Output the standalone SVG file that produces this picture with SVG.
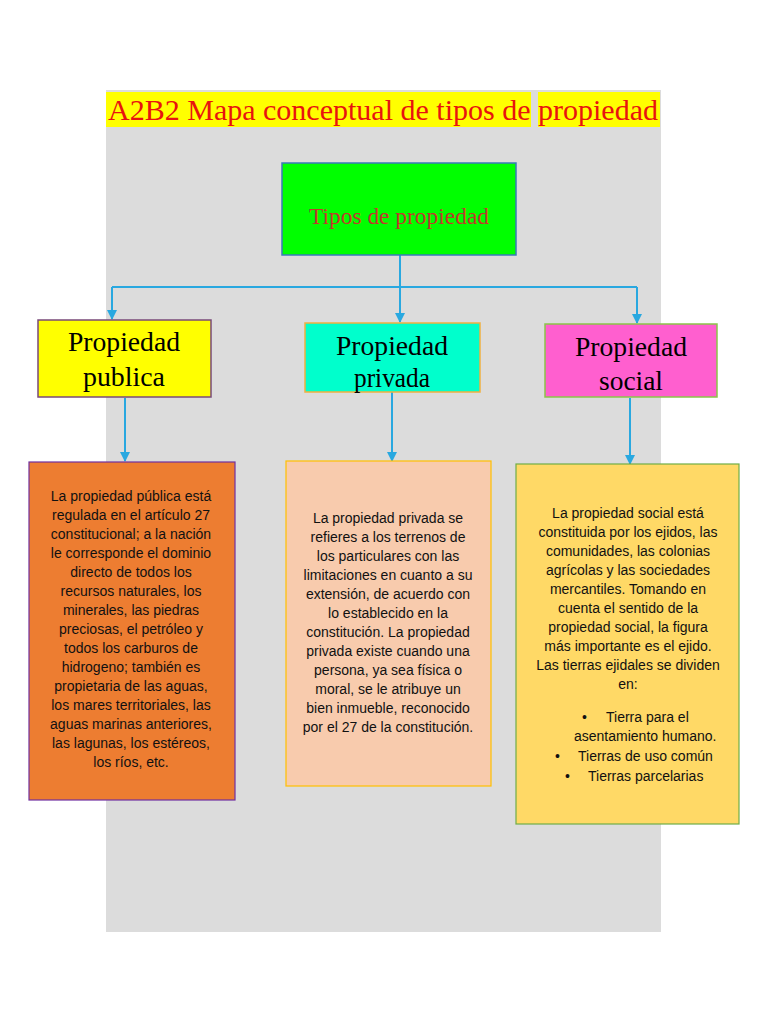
<svg xmlns="http://www.w3.org/2000/svg" width="768" height="1024" viewBox="0 0 768 1024">
<style>
.t{font-family:"Liberation Serif",serif;fill:#000;font-size:27px;text-anchor:middle}
.b{font-family:"Liberation Sans",Arial,sans-serif;font-size:14px;fill:#111;text-anchor:middle}
.s{font-family:"Liberation Sans",Arial,sans-serif;font-size:14px;fill:#111;text-anchor:start}
.c{stroke:#29a8e0;stroke-width:2;fill:none}
</style>
<defs><marker id="a" markerWidth="10" markerHeight="10" refX="5" refY="9" orient="0" markerUnits="userSpaceOnUse" viewBox="0 0 10 10"><path d="M0,0 L10,0 L5,10 Z" fill="#29a8e0"/></marker></defs>
<rect width="768" height="1024" fill="#fff"/>
<rect x="106" y="90" width="555" height="842" fill="#dcdcdc"/>
<g id="title"><rect x="106" y="92" width="425" height="35" fill="#ffff00"/><rect x="538" y="92" width="122" height="35" fill="#ffff00"/>
<text x="383" y="120" font-family="Liberation Serif,serif" font-size="30" fill="#e8130f" text-anchor="middle" textLength="550" lengthAdjust="spacingAndGlyphs">A2B2 Mapa conceptual de tipos de propiedad</text></g>
<g id="connectors">
<path class="c" d="M400,255 V287 M112,287 H637"/>
<path class="c" d="M112,287 V319" marker-end="url(#a)"/>
<path class="c" d="M400,287 V322" marker-end="url(#a)"/>
<path class="c" d="M637,287 V323" marker-end="url(#a)"/>
<path class="c" d="M125,398 V461" marker-end="url(#a)"/>
<path class="c" d="M392,392 V461" marker-end="url(#a)"/>
<path class="c" d="M630,398 V464" marker-end="url(#a)"/>
</g>
<g id="root"><rect x="282" y="163" width="234" height="92" fill="#00ff00" stroke="#3a7ab8" stroke-width="1.5"/>
<text x="399" y="224" font-family="Liberation Serif,serif" font-size="24" fill="#c0392b" text-anchor="middle" textLength="180" lengthAdjust="spacingAndGlyphs">Tipos de propiedad</text></g>
<g id="publica"><rect x="38" y="320" width="173" height="77" fill="#ffff00" stroke="#7a4a7a" stroke-width="1.5"/>
<text class="t" x="124" y="351" textLength="112" lengthAdjust="spacingAndGlyphs">Propiedad</text><text class="t" x="124" y="386" textLength="82" lengthAdjust="spacingAndGlyphs">publica</text></g>
<g id="privada"><rect x="305" y="323" width="175" height="69" fill="#00ffcc" stroke="#f0b040" stroke-width="1.5"/>
<text class="t" x="392" y="355" textLength="112" lengthAdjust="spacingAndGlyphs">Propiedad</text><text class="t" x="392" y="387" textLength="76" lengthAdjust="spacingAndGlyphs">privada</text></g>
<g id="social"><rect x="545" y="324" width="172" height="73" fill="#ff5fcf" stroke="#8bc34a" stroke-width="1.5"/>
<text class="t" x="631" y="356" textLength="112" lengthAdjust="spacingAndGlyphs">Propiedad</text><text class="t" x="631" y="390" textLength="64" lengthAdjust="spacingAndGlyphs">social</text></g>
<g id="desc-publica"><rect x="29" y="462" width="206" height="338" fill="#ed7d31" stroke="#7030a0" stroke-width="1.2"/>
<text class="b"><tspan x="131" y="501">La propiedad pública está</tspan><tspan x="131" dy="19">regulada en el artículo 27</tspan><tspan x="131" dy="19">constitucional; a la nación</tspan><tspan x="131" dy="19">le corresponde el dominio</tspan><tspan x="131" dy="19">directo de todos los</tspan><tspan x="131" dy="19">recursos naturales, los</tspan><tspan x="131" dy="19">minerales, las piedras</tspan><tspan x="131" dy="19">preciosas, el petróleo y</tspan><tspan x="131" dy="19">todos los carburos de</tspan><tspan x="131" dy="19">hidrogeno; también es</tspan><tspan x="131" dy="19">propietaria de las aguas,</tspan><tspan x="131" dy="19">los mares territoriales, las</tspan><tspan x="131" dy="19">aguas marinas anteriores,</tspan><tspan x="131" dy="19">las lagunas, los estéreos,</tspan><tspan x="131" dy="19">los ríos, etc.</tspan></text></g>
<g id="desc-privada"><rect x="286" y="461" width="205" height="325" fill="#f8cbad" stroke="#ffc000" stroke-width="1.2"/>
<text class="b"><tspan x="388" y="523">La propiedad privada se</tspan><tspan x="388" dy="19">refieres a los terrenos de</tspan><tspan x="388" dy="19">los particulares con las</tspan><tspan x="388" dy="19">limitaciones en cuanto a su</tspan><tspan x="388" dy="19">extensión, de acuerdo con</tspan><tspan x="388" dy="19">lo establecido en la</tspan><tspan x="388" dy="19">constitución. La propiedad</tspan><tspan x="388" dy="19">privada existe cuando una</tspan><tspan x="388" dy="19">persona, ya sea física o</tspan><tspan x="388" dy="19">moral, se le atribuye un</tspan><tspan x="388" dy="19">bien inmueble, reconocido</tspan><tspan x="388" dy="19">por el 27 de la constitución.</tspan></text></g>
<g id="desc-social"><rect x="516" y="464" width="223" height="360" fill="#ffd966" stroke="#70ad47" stroke-width="1.2"/>
<text class="b"><tspan x="628" y="518">La propiedad social está</tspan><tspan x="628" dy="19">constituida por los ejidos, las</tspan><tspan x="628" dy="19">comunidades, las colonias</tspan><tspan x="628" dy="19">agrícolas y las sociedades</tspan><tspan x="628" dy="19">mercantiles. Tomando en</tspan><tspan x="628" dy="19">cuenta el sentido de la</tspan><tspan x="628" dy="19">propiedad social, la figura</tspan><tspan x="628" dy="19">más importante es el ejido.</tspan><tspan x="628" dy="19">Las tierras ejidales se dividen</tspan><tspan x="628" dy="19">en:</tspan></text>
<text class="s"><tspan x="582" y="722">•</tspan><tspan x="606" y="722">Tierra para el</tspan><tspan x="574" y="741">asentamiento humano.</tspan><tspan x="555" y="761">•</tspan><tspan x="578" y="761">Tierras de uso común</tspan><tspan x="565" y="781">•</tspan><tspan x="588" y="781">Tierras parcelarias</tspan></text></g>
</svg>
